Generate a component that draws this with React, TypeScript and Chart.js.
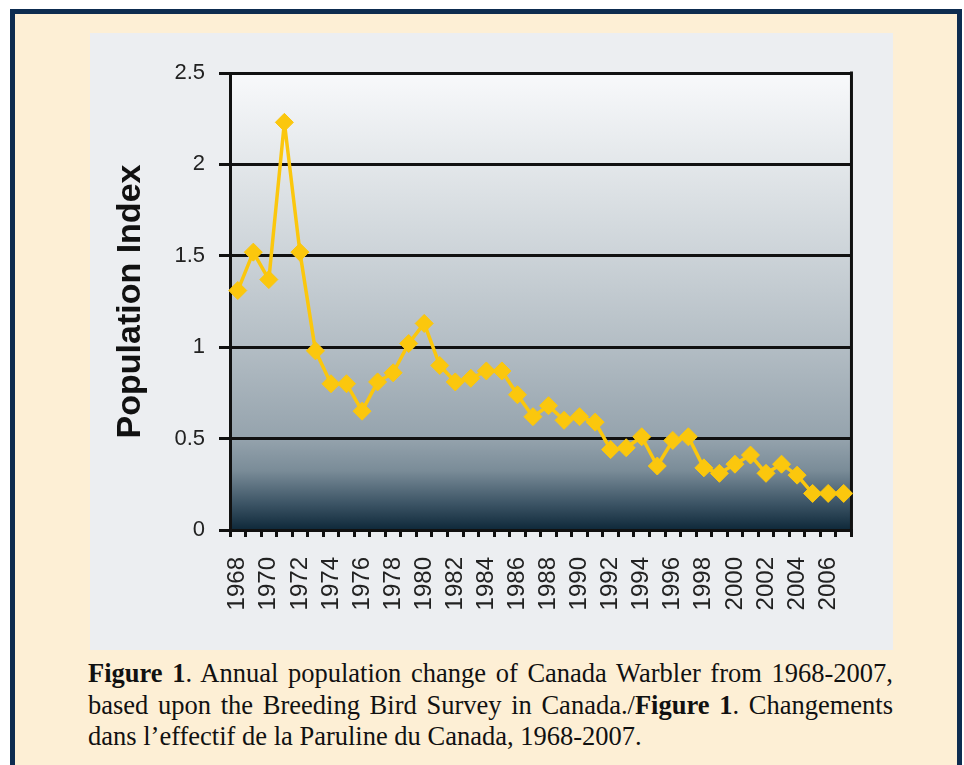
import React, { useEffect, useRef } from 'react';
import { Chart, registerables } from 'chart.js';

Chart.register(...registerables);

const years: string[] = [
  '1968', '1969', '1970', '1971', '1972', '1973', '1974', '1975', '1976', '1977',
  '1978', '1979', '1980', '1981', '1982', '1983', '1984', '1985', '1986', '1987',
  '1988', '1989', '1990', '1991', '1992', '1993', '1994', '1995', '1996', '1997',
  '1998', '1999', '2000', '2001', '2002', '2003', '2004', '2005', '2006', '2007',
];

const populationIndex: number[] = [
  1.31, 1.52, 1.37, 2.23, 1.52, 0.98, 0.8, 0.8, 0.65, 0.81,
  0.86, 1.02, 1.13, 0.9, 0.81, 0.83, 0.87, 0.87, 0.74, 0.62,
  0.68, 0.6, 0.62, 0.59, 0.44, 0.45, 0.51, 0.35, 0.49, 0.51,
  0.34, 0.31, 0.36, 0.41, 0.31, 0.36, 0.3, 0.2, 0.2, 0.2,
];

const yMin = 0;
const yMax = 2.5;
const yStep = 0.5;

const yTitle = 'Population Index';

const SANS = '"Liberation Sans", Arial, Helvetica, sans-serif';
const LINE_COLOR = '#fbc70d';

const plotFrame = {
  id: 'plotFrame',
  beforeDraw(chart: any) {
    const { ctx, chartArea: a } = chart;
    const g = ctx.createLinearGradient(0, a.top, 0, a.bottom);
    g.addColorStop(0, '#f8f9fb');
    g.addColorStop(0.2, '#e3e7ea');
    g.addColorStop(0.4, '#ccd3d8');
    g.addColorStop(0.6, '#b3bdc4');
    g.addColorStop(0.8, '#95a3ad');
    g.addColorStop(0.87, '#7a8c98');
    g.addColorStop(0.94, '#3e5667');
    g.addColorStop(1, '#0e2839');
    ctx.save();
    ctx.fillStyle = g;
    ctx.fillRect(a.left, a.top, a.right - a.left, a.bottom - a.top);
    ctx.restore();
  },
  beforeDatasetsDraw(chart: any) {
    const { ctx, chartArea: a } = chart;
    ctx.save();
    ctx.strokeStyle = '#111';
    ctx.lineWidth = 3;
    ctx.beginPath();
    ctx.moveTo(a.right, a.top - 1.5);
    ctx.lineTo(a.right, a.bottom);
    ctx.stroke();
    ctx.restore();
  },
};

function PopulationChart() {
  const ref = useRef<HTMLCanvasElement | null>(null);
  useEffect(() => {
    if (!ref.current) return;
    const chart = new Chart(ref.current, {
      type: 'line',
      data: {
        labels: years,
        datasets: [
          {
            data: populationIndex,
            borderColor: LINE_COLOR,
            backgroundColor: LINE_COLOR,
            borderWidth: 3.5,
            borderJoinStyle: 'round',
            pointStyle: 'rectRot',
            pointRadius: 9,
            pointBorderWidth: 1,
            pointBackgroundColor: LINE_COLOR,
            pointBorderColor: LINE_COLOR,
            tension: 0,
            fill: false,
          },
        ],
      },
      options: {
        responsive: false,
        animation: false,
        devicePixelRatio: 1,
        layout: { padding: { left: 0, top: 40, right: 40, bottom: 0 } },
        plugins: {
          legend: { display: false },
          tooltip: { enabled: false },
          title: { display: false },
        },
        scales: {
          x: {
            type: 'category',
            offset: true,
            grid: {
              offset: true,
              drawOnChartArea: false,
              drawTicks: true,
              tickLength: 7,
              color: '#111',
              lineWidth: 3,
            },
            border: { display: true, color: '#111', width: 3 },
            ticks: {
              autoSkip: false,
              minRotation: 90,
              maxRotation: 90,
              padding: 20,
              color: '#222',
              font: { family: SANS, size: 24 },
              callback: (_v: any, i: number) => (i % 2 === 0 ? years[i] : ''),
            },
            afterFit: (s: any) => {
              s.height = 120;
            },
          },
          y: {
            min: yMin,
            max: yMax,
            ticks: {
              stepSize: yStep,
              padding: 14,
              color: '#222',
              font: { family: SANS, size: 22 },
              callback: (v: any) => String(Number(v)),
            },
            grid: {
              color: '#111',
              lineWidth: 3,
              tickLength: 11,
              drawTicks: true,
            },
            border: { display: true, color: '#111', width: 3 },
            title: {
              display: true,
              text: yTitle,
              color: '#111',
              font: { family: SANS, size: 34, weight: 'bold' },
              padding: { top: 20, bottom: 0 },
            },
            afterFit: (s: any) => {
              s.width = 140;
            },
          },
        },
      },
      plugins: [plotFrame],
    });
    return () => chart.destroy();
  }, []);
  return <canvas ref={ref} width={803} height={617} style={{ display: 'block', width: 803, height: 617 }} />;
}

export default function App() {
  const captionStyle: React.CSSProperties = {
    fontFamily: '"Liberation Serif", "Times New Roman", Times, serif',
    fontSize: 26.5,
    lineHeight: '31.5px',
    color: '#111',
    whiteSpace: 'nowrap',
  };
  const justified: React.CSSProperties = { textAlign: 'justify', textAlignLast: 'justify' as any };
  return (
    <div style={{ position: 'absolute', left: 0, top: 0, width: 964, height: 765, background: '#ffffff', overflow: 'hidden' }}>
      <div
        style={{
          position: 'absolute',
          left: 10,
          top: 9,
          width: 952,
          height: 800,
          boxSizing: 'border-box',
          border: '5px solid #0d2c50',
          background: '#fdefd5',
        }}
      />
      <div style={{ position: 'absolute', left: 90, top: 33, width: 803, height: 617, background: '#eceef1' }}>
        <PopulationChart />
      </div>
      <div style={{ position: 'absolute', left: 88, top: 658, width: 805, ...captionStyle }}>
        <div style={{ ...justified, whiteSpace: 'normal' }}>
          <b>Figure 1</b>. Annual population change of Canada Warbler from 1968-2007,
        </div>
        <div style={{ ...justified, whiteSpace: 'normal' }}>
          based upon the Breeding Bird Survey in Canada./<b>Figure 1</b>. Changements
        </div>
        <div>dans l’effectif de la Paruline du Canada, 1968-2007.</div>
      </div>
    </div>
  );
}
